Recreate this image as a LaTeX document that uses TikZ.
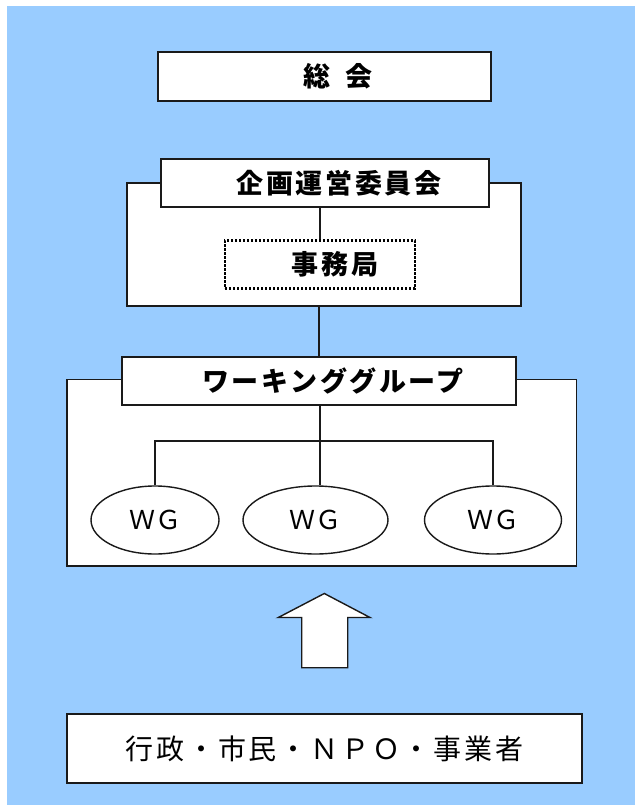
\documentclass[tikz,border=0pt]{standalone}
\usepackage{fontspec}
\newfontfamily\jpb[LetterSpace=10]{Noto Sans CJK JP Black}
\newfontfamily\jpr[LetterSpace=10]{Noto Sans CJK JP}
\newfontfamily\jpw{Noto Sans CJK JP}
\definecolor{bgblue}{HTML}{99CCFF}
\definecolor{ink}{HTML}{1A1A1A}
\tikzset{
  boxstyle/.style={draw=ink, line width=1.5pt, fill=white, inner sep=0pt, rectangle},
  titlebox/.style={boxstyle, font=\jpb\fontsize{27}{27}\selectfont},
  framebox/.style={boxstyle},
  dotbox/.style={draw=black, line width=2.4pt, dash pattern=on 2.2pt off 1.8pt, fill=white, inner sep=0pt, rectangle, font=\jpb\fontsize{27}{27}\selectfont},
  wgnode/.style={draw=ink, line width=1.4pt, fill=white, ellipse, inner sep=0pt, minimum height=68pt, font=\jpw\fontsize{26}{26}\selectfont},
  conn/.style={draw=ink, line width=1.6pt},
  bigarrow/.style={draw=ink, line width=1.4pt, fill=white, line join=miter},
}
\usetikzlibrary{shapes.geometric}
\begin{document}
\begin{tikzpicture}[x=1pt,y=-1pt]
\useasboundingbox (0,0) rectangle (635,805);
\fill[white] (0,0) rectangle (635,805);
\fill[bgblue] (7,6) rectangle (635,805);

% top box
\node[titlebox, minimum width=333pt, minimum height=49pt] (soukai) at (324.5,76.5) {\hspace*{27pt}総\hspace{16pt}会};

% committee frame
\node[framebox, minimum width=394pt, minimum height=123pt] (outer1) at (324,244.5) {};
\node[titlebox, minimum width=328pt, minimum height=48pt] (kikaku) at (325,183) {\hspace*{28pt}企画運営委員会};
\node[dotbox, minimum width=190pt, minimum height=48pt] (jimu) at (320,264.5) {\hspace*{30pt}事務局};
\draw[conn] (jimu.north) -- (jimu.north |- kikaku.south);

% working group frame
\node[framebox, minimum width=509.6pt, minimum height=186.5pt] (outer2) at (321.8,472.7) {};
\node[titlebox, minimum width=394pt, minimum height=48pt] (wgt) at (319,381) {\hspace*{28pt}ワーキンググループ};
\draw[conn] (wgt.north) -- (wgt.north |- outer1.south);

\node[wgnode, minimum width=128pt] (wg1) at (155,520) {ＷＧ};
\node[wgnode, minimum width=145pt] (wg2) at (315.5,520) {ＷＧ};
\node[wgnode, minimum width=137pt] (wg3) at (493,520) {ＷＧ};
\coordinate (bar) at (320,441);
\coordinate (hub) at (wgt.south -| bar);
\draw[conn] (hub) -- (bar |- wg2.north);
\draw[conn] (wg1.north) |- (bar) -| (wg3.north);

% big arrow
\draw[bigarrow] (324.3,593.5) -- (370,617.5) -- (347.7,617.5) -- (347.7,667.7)
  -- (301.7,667.7) -- (301.7,617.5) -- (278.3,617.5) -- cycle;

% bottom box
\node[boxstyle, minimum width=515pt, minimum height=69pt, font=\jpr\fontsize{28}{28}\selectfont] (base) at (324.5,748.5) {行政・市民・ＮＰＯ・事業者};
\end{tikzpicture}
\end{document}
